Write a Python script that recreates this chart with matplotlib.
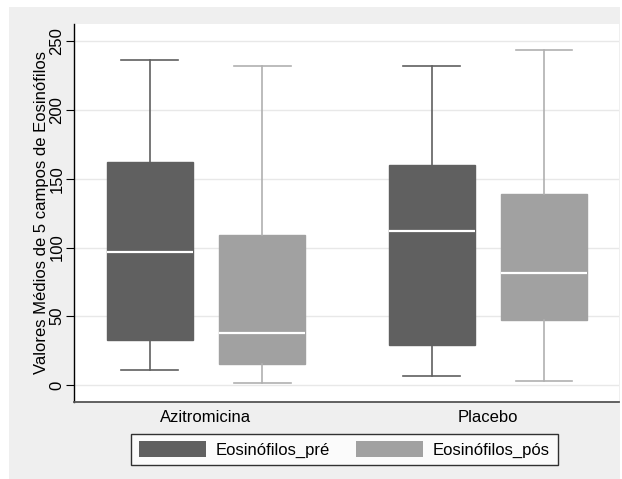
import matplotlib
matplotlib.use("Agg")
import matplotlib.pyplot as plt
from matplotlib.patches import Rectangle, Patch

plt.rcParams['font.family'] = ['Liberation Sans', 'DejaVu Sans']

groups = ["Azitromicina", "Placebo"]
series = ["Eosinófilos_pré", "Eosinófilos_pós"]
# (low whisker, Q1, median, Q3, high whisker) per group
pre = [(10.9, 32.5, 96.8, 161.9, 236.4),
       (6.6, 29.1, 111.7, 159.9, 232.0)]
pos = [(1.7, 15.3, 37.6, 108.8, 232.2),
       (2.9, 47.1, 81.6, 138.8, 243.7)]
yticks = [0, 50, 100, 150, 200, 250]

colors = ["#606060", "#a1a1a1"]
wcolors = ["#606060", "#b0b0b0"]

fig = plt.figure(figsize=(6.22, 4.79), dpi=100)
fig.patches.append(Rectangle((9/622, 0), 611/622, 1 - 7/479, transform=fig.transFigure,
                             facecolor="#efefef", edgecolor="none", zorder=-10))
ax = fig.add_axes([74/622, 1 - 402/479, 545/622, 378/479])
ax.set_facecolor("white")

for k, data in enumerate([pre, pos]):
    stats = []
    for g, (lo, q1, med, q3, hi) in enumerate(data):
        stats.append(dict(whislo=lo, q1=q1, med=med, q3=q3, whishi=hi, fliers=[]))
    positions = [g + 1 + (-0.2 if k == 0 else 0.2) for g in range(len(data))]
    ax.bxp(stats, positions=positions, widths=0.305, capwidths=0.2, showfliers=False,
           patch_artist=True,
           boxprops=dict(facecolor=colors[k], edgecolor=colors[k], linewidth=1),
           medianprops=dict(color="white", linewidth=1.6),
           whiskerprops=dict(color=wcolors[k], linewidth=1.2),
           capprops=dict(color=wcolors[k], linewidth=1.2))

ax.set_xlim(0.532, 2.465)
ax.set_ylim(-12.4, 262.6)
ax.set_xticks([1, 2])
ax.set_xticklabels(groups, fontsize=12)
ax.tick_params(axis='x', length=0, pad=6)
ax.set_yticks(yticks)
ax.set_yticklabels([str(v) for v in yticks], rotation=90, va='center', fontsize=12)
ax.tick_params(axis='y', length=6, width=0.8, pad=1)
ax.yaxis.grid(True, color="#e8e8e8", linewidth=1)
ax.set_axisbelow(True)
ax.set_ylabel("Valores Médios de 5 campos de Eosinófilos", fontsize=12)
ax.yaxis.set_label_coords(-0.046, 0.5)

for s in ["top", "right"]:
    ax.spines[s].set_visible(False)
ax.spines["left"].set_color("black")
ax.spines["left"].set_linewidth(1)
ax.spines["bottom"].set_color("#555555")
ax.spines["bottom"].set_linewidth(1.3)

handles = [Patch(facecolor=colors[0], edgecolor="none"),
           Patch(facecolor=colors[1], edgecolor="none")]
leg = fig.legend(handles, series, ncol=2, loc="center",
                 bbox_to_anchor=(344.5/622, 1 - 449.5/479),
                 fontsize=12, handlelength=4.0, handleheight=1.1, handletextpad=0.6,
                 columnspacing=1.6, frameon=True, fancybox=False, borderpad=0.45)
leg.get_frame().set_edgecolor("black")
leg.get_frame().set_linewidth(1)
leg.get_frame().set_facecolor("white")

fig.savefig("out.png", dpi=100)
